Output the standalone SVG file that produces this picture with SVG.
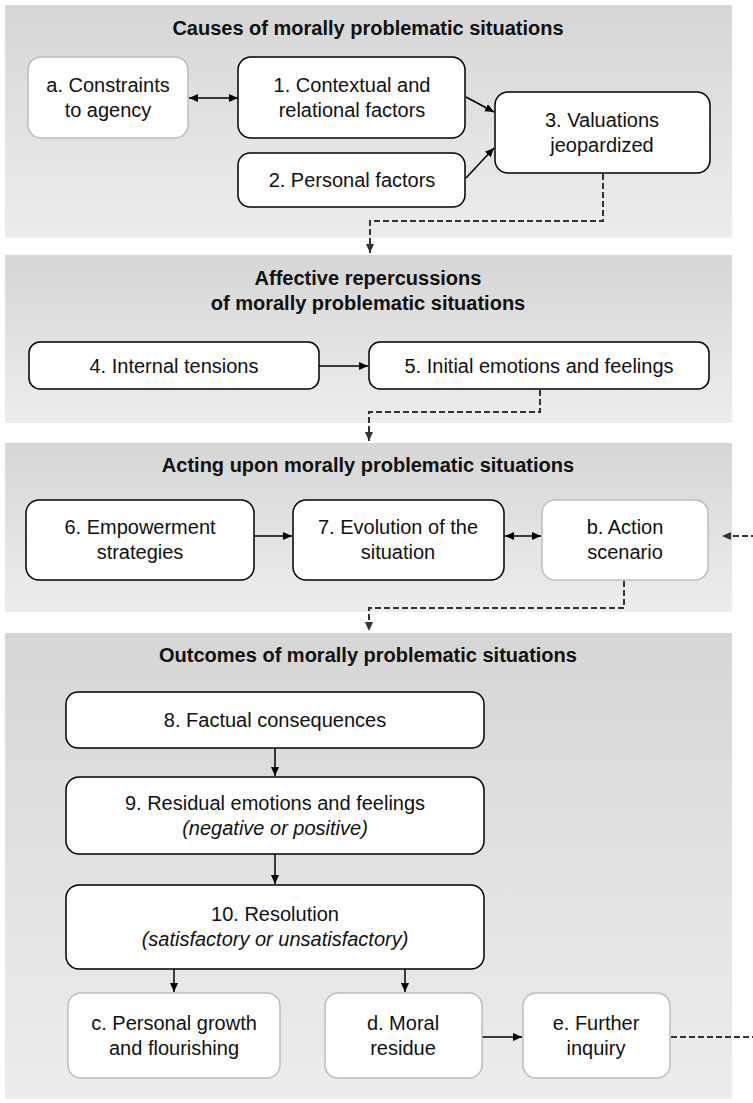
<svg xmlns="http://www.w3.org/2000/svg" width="753" height="1103" viewBox="0 0 753 1103">
<style>
text{font-family:"Liberation Sans",Arial,Helvetica,sans-serif;font-size:20px;fill:#111;text-anchor:middle}
.title{font-weight:bold;fill:#111}
.it{font-style:italic}
.panel{fill:url(#pg)}
.nb{fill:#fff;stroke:#000;stroke-width:1.5}
.lb{fill:#fff;stroke:#bdbdbd;stroke-width:1.5}
.ar{fill:none;stroke:#000;stroke-width:1.5}
.da{fill:none;stroke:#333;stroke-width:2;stroke-dasharray:6 3}
</style>
<defs>
<linearGradient id="pg" x1="0" y1="0" x2="0" y2="1">
<stop offset="0" stop-color="#d6d6d6"/>
<stop offset="1" stop-color="#ededed"/>
</linearGradient>
<marker id="ah" markerUnits="userSpaceOnUse" markerWidth="10" markerHeight="10" refX="9" refY="4" orient="auto-start-reverse">
<path d="M0,0 L9,4 L0,8 z" fill="#000"/>
</marker>
<marker id="dh" markerUnits="userSpaceOnUse" markerWidth="10" markerHeight="10" refX="9" refY="4" orient="auto">
<path d="M0,0 L9,4 L0,8 z" fill="#333"/>
</marker>
</defs>

<g id="panels">
<rect class="panel" x="5" y="5" width="727" height="233"/>
<rect class="panel" x="5" y="255" width="727" height="168"/>
<rect class="panel" x="5" y="443" width="727" height="169"/>
<rect class="panel" x="5" y="633" width="727" height="466"/>
<text class="title" x="368" y="35">Causes of morally problematic situations</text>
<text class="title" x="368" y="285">Affective repercussions</text>
<text class="title" x="368" y="310">of morally problematic situations</text>
<text class="title" x="368" y="472">Acting upon morally problematic situations</text>
<text class="title" x="368" y="662">Outcomes of morally problematic situations</text>
</g>

<g id="connectors">
<line class="ar" x1="189" y1="98" x2="238" y2="98" marker-start="url(#ah)" marker-end="url(#ah)"/>
<line class="ar" x1="466" y1="97" x2="494" y2="112" marker-end="url(#ah)"/>
<line class="ar" x1="466" y1="178" x2="494" y2="148" marker-end="url(#ah)"/>
<path class="da" d="M603,174 V221 H370 V253" marker-end="url(#dh)"/>
<line class="ar" x1="319" y1="366" x2="368" y2="366" marker-end="url(#ah)"/>
<path class="da" d="M540,390 V412 H369 V441" marker-end="url(#dh)"/>
<line class="ar" x1="254" y1="536" x2="292" y2="536" marker-end="url(#ah)"/>
<line class="ar" x1="505" y1="536" x2="541" y2="536" marker-start="url(#ah)" marker-end="url(#ah)"/>
<path class="da" d="M624,581 V608 H369 V631" marker-end="url(#dh)"/>
<line class="ar" x1="275" y1="748" x2="275" y2="776" marker-end="url(#ah)"/>
<line class="ar" x1="275" y1="854" x2="275" y2="884" marker-end="url(#ah)"/>
<line class="ar" x1="174" y1="969" x2="174" y2="992" marker-end="url(#ah)"/>
<line class="ar" x1="405" y1="969" x2="405" y2="992" marker-end="url(#ah)"/>
<line class="ar" x1="482" y1="1037" x2="522" y2="1037" marker-end="url(#ah)"/>
<path class="da" d="M671,1037 H765 V536 H722" marker-end="url(#dh)"/>
</g>

<g id="node-a"><rect class="lb" x="28" y="57" width="160" height="81" rx="13"/>
<text x="108" y="92">a. Constraints</text><text x="108" y="117">to agency</text></g>
<g id="node-1"><rect class="nb" x="238" y="57" width="227" height="81" rx="13"/>
<text x="352" y="92">1. Contextual and</text><text x="352" y="117">relational factors</text></g>
<g id="node-2"><rect class="nb" x="238" y="153" width="227" height="54" rx="12"/>
<text x="352" y="187">2. Personal factors</text></g>
<g id="node-3"><rect class="nb" x="495" y="92" width="215" height="81" rx="13"/>
<text x="602" y="127">3. Valuations</text><text x="602" y="152">jeopardized</text></g>

<g id="node-4"><rect class="nb" x="29" y="342" width="290" height="47" rx="11"/>
<text x="174" y="373">4. Internal tensions</text></g>
<g id="node-5"><rect class="nb" x="369" y="342" width="340" height="47" rx="11"/>
<text x="539" y="373">5. Initial emotions and feelings</text></g>

<g id="node-6"><rect class="nb" x="26" y="500" width="228" height="80" rx="13"/>
<text x="140" y="534">6. Empowerment</text><text x="140" y="559">strategies</text></g>
<g id="node-7"><rect class="nb" x="293" y="500" width="211" height="80" rx="13"/>
<text x="398" y="534">7. Evolution of the</text><text x="398" y="559">situation</text></g>
<g id="node-b"><rect class="lb" x="542" y="500" width="166" height="80" rx="13"/>
<text x="625" y="534">b. Action</text><text x="625" y="559">scenario</text></g>

<g id="node-8"><rect class="nb" x="66" y="692" width="418" height="56" rx="12"/>
<text x="275" y="727">8. Factual consequences</text></g>
<g id="node-9"><rect class="nb" x="66" y="777" width="418" height="77" rx="13"/>
<text x="275" y="810">9. Residual emotions and feelings</text><text class="it" x="275" y="835">(negative or positive)</text></g>
<g id="node-10"><rect class="nb" x="66" y="885" width="418" height="84" rx="13"/>
<text x="275" y="921">10. Resolution</text><text class="it" x="275" y="946">(satisfactory or unsatisfactory)</text></g>

<g id="node-c"><rect class="lb" x="68" y="993" width="212" height="85" rx="13"/>
<text x="174" y="1030">c. Personal growth</text><text x="174" y="1055">and flourishing</text></g>
<g id="node-d"><rect class="lb" x="325" y="993" width="157" height="85" rx="13"/>
<text x="403" y="1030">d. Moral</text><text x="403" y="1055">residue</text></g>
<g id="node-e"><rect class="lb" x="523" y="993" width="147" height="85" rx="13"/>
<text x="596" y="1030">e. Further</text><text x="596" y="1055">inquiry</text></g>
</svg>
